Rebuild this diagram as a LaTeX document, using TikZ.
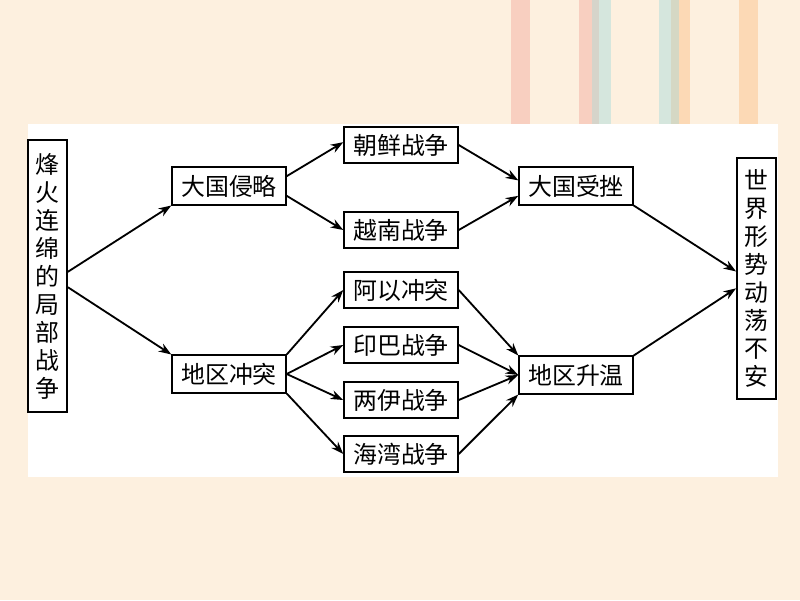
\documentclass[tikz,border=0pt]{standalone}
\usepackage{fontspec}
\newfontfamily\cjk{Noto Sans CJK SC}
\usetikzlibrary{arrows.meta}
\definecolor{bgcream}{HTML}{FDF0DF}
\definecolor{stpink}{HTML}{F8CFC0}
\definecolor{stgray}{HTML}{D6D4CA}
\definecolor{stteal}{HTML}{D5E6DD}
\definecolor{stolive}{HTML}{D5D8C4}
\definecolor{stpeach}{HTML}{FCD9B5}

\begin{document}
\begin{tikzpicture}[x=0.025cm,y=-0.025cm,
  box/.style={draw,line width=1.3pt,fill=white,font=\cjk\fontsize{17}{20}\selectfont,
    minimum width=2.84cm,minimum height=0.93cm,inner sep=0pt},
  vbox/.style={draw,line width=1.3pt,fill=white,font=\cjk\fontsize{17}{19.9}\selectfont,
    align=center,minimum width=0.975cm,inner sep=0pt},
  link/.style={line width=1.3pt,-{Stealth[length=9pt,width=6.5pt]}}]
  % background and stripes
  \fill[bgcream] (0,0) rectangle (800,600);
  \fill[stpink] (511,0) rectangle (530,124);
  \fill[stpink] (579,0) rectangle (592,124);
  \fill[stgray] (592,0) rectangle (599,124);
  \fill[stteal] (599,0) rectangle (611,124);
  \fill[stteal] (659,0) rectangle (671,124);
  \fill[stolive] (671,0) rectangle (679,124);
  \fill[stpeach] (679,0) rectangle (690,124);
  \fill[stpeach] (739,0) rectangle (758,124);
  \fill[white] (28,124) rectangle (778,477);

  % nodes
  \node[vbox,minimum height=6.8cm] (jz) at (47.5,276) {烽\\火\\连\\绵\\的\\局\\部\\战\\争};
  \node[box] (dq) at (229,186) {大国侵略};
  \node[box] (dc) at (229,374) {地区冲突};
  \node[box,minimum height=0.88cm] (cx) at (401,145) {朝鲜战争};
  \node[box,minimum height=0.88cm] (yn) at (401,230) {越南战争};
  \node[box,minimum height=0.9cm] (ay) at (401,290) {阿以冲突};
  \node[box,minimum height=0.9cm] (yb) at (401,345) {印巴战争};
  \node[box,minimum height=0.9cm] (ly) at (401,400) {两伊战争};
  \node[box,minimum height=0.9cm] (hw) at (401,454) {海湾战争};
  \node[box] (sc) at (576,186) {大国受挫};
  \node[box] (sw) at (576,375) {地区升温};
  \node[vbox,minimum height=6.03cm] (sj) at (756.5,278.5) {世\\界\\形\\势\\动\\荡\\不\\安};

  % arrows
  \draw[link] ([yshift=3pt]jz.east) -- (dq.south west);
  \draw[link] ([yshift=-8pt]jz.east) -- (dc.north west);
  \draw[link] ([yshift=7pt]dq.east) -- ([yshift=2pt]cx.west);
  \draw[link] ([yshift=-7pt]dq.east) -- (yn.west);
  \draw[link] (cx.east) -- ([yshift=4pt]sc.west);
  \draw[link] (yn.east) -- ([yshift=-7pt]sc.west);
  \draw[link] (dc.north east) -- (ay.west);
  \draw[link] (dc.east) -- (yb.west);
  \draw[link] (dc.east) -- (ly.west);
  \draw[link] (dc.south east) -- (hw.west);
  \draw[link] (ay.east) -- (sw.north west);
  \draw[link] (yb.east) -- (sw.west);
  \draw[link] (ly.east) -- (sw.west);
  \draw[link] (hw.east) -- (sw.south west);
  \draw[link] (sc.south east) -- ([yshift=5pt]sj.west);
  \draw[link] (sw.north east) -- ([yshift=-7pt]sj.west);
\end{tikzpicture}
\end{document}
